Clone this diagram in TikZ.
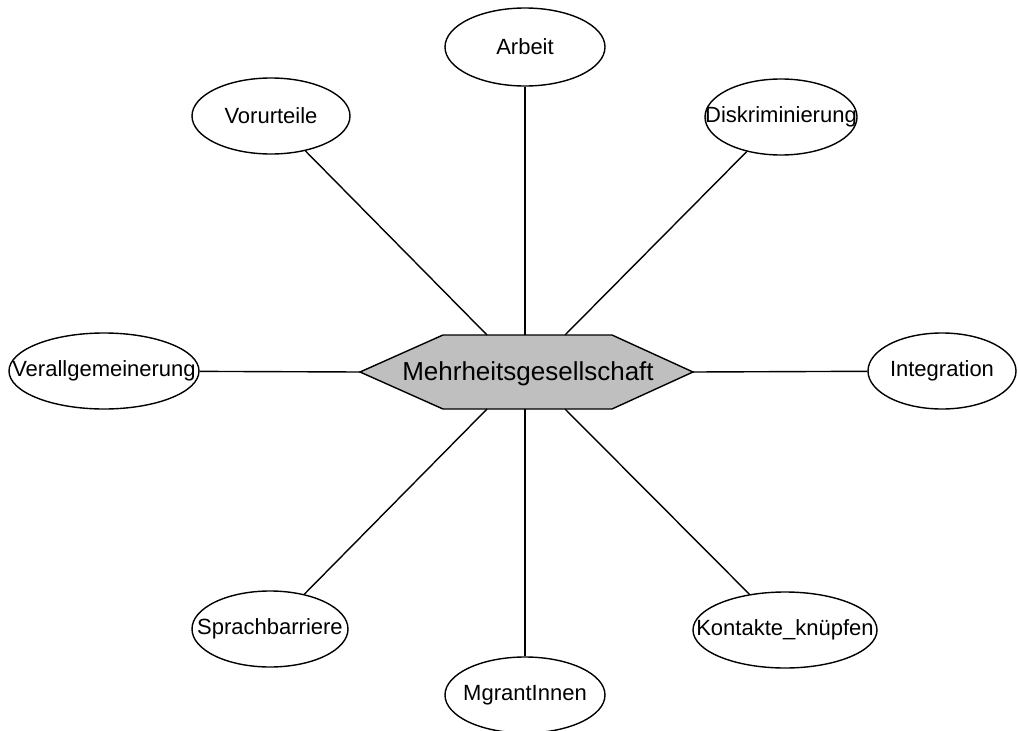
\documentclass[tikz,border=0pt]{standalone}
\usepackage{fontspec}
\setmainfont{Liberation Sans}
\usetikzlibrary{shapes.geometric}

\tikzset{
  topic/.style={draw=black, line width=1.4pt, fill=white, ellipse, inner sep=0pt},
  topictext/.style={font=\fontsize{22}{22}\selectfont, inner sep=0pt},
  link/.style={draw=black, line width=1.4pt},
  hub/.style={draw=black, line width=1.4pt, fill=black!25},
}

\begin{document}
\begin{tikzpicture}[x=1pt, y=-1pt]
  \useasboundingbox (0,0) rectangle (1018,731);

  % central hexagon
  \coordinate (h1) at (443,335);
  \coordinate (h2) at (612,335);
  \coordinate (h3) at (693,372);
  \coordinate (h4) at (612,409);
  \coordinate (h5) at (443,409);
  \coordinate (h6) at (360,372);
  \path[hub] (h1) -- (h2) -- (h3) -- (h4) -- (h5) -- (h6) -- cycle;
  \node[font=\fontsize{26}{26}\selectfont, inner sep=0pt] (center) at (528,374) {Mehrheitsgesellschaft};

  % attachment points on the hexagon
  \coordinate (tl) at (487,335);
  \coordinate (tm) at (525,335);
  \coordinate (tr) at (565,335);
  \coordinate (bl) at (487,409);
  \coordinate (bm) at (525,409);
  \coordinate (br) at (565,409);

  % surrounding topics: the ellipse is sized explicitly, the text sits on top
  \node[topic, minimum width=160pt, minimum height=78pt] (arbeit) at (525,47) {};
  \node[topictext] (arbeitT) at (arbeit.center) {Arbeit};
  \node[topic, minimum width=158pt, minimum height=76pt] (vorurteile) at (271,116) {};
  \node[topictext] (vorurteileT) at (vorurteile.center) {Vorurteile};
  \node[topic, minimum width=152pt, minimum height=76pt] (diskr) at (781,117) {};
  \node[topictext] (diskrT) at (diskr.center) {Diskriminierung};
  \node[topic, minimum width=190pt, minimum height=76pt] (verallg) at (104,371) {};
  \node[topictext] (verallgT) at (verallg.center) {Verallgemeinerung};
  \node[topic, minimum width=148pt, minimum height=76pt] (integ) at (942,371) {};
  \node[topictext] (integT) at (integ.center) {Integration};
  \node[topic, minimum width=156pt, minimum height=76pt] (sprach) at (270,629) {};
  \node[topictext] (sprachT) at (sprach.center) {Sprachbarriere};
  \node[topic, minimum width=160pt, minimum height=76pt] (migr) at (525,695) {};
  \node[topictext] (migrT) at (migr.center) {MgrantInnen};
  \node[topic, minimum width=184pt, minimum height=76pt] (kontakt) at (785,630) {};
  \node[topictext] (kontaktT) at (kontakt.center) {Kontakte\_knüpfen};

  % connectors
  \draw[link] (tm) -- (arbeit);
  \draw[link] (tl) -- (vorurteile);
  \draw[link] (tr) -- (diskr);
  \draw[link] (h6) -- (verallg);
  \draw[link] (h3) -- (integ);
  \draw[link] (bl) -- (sprach);
  \draw[link] (bm) -- (migr);
  \draw[link] (br) -- (kontakt);
\end{tikzpicture}
\end{document}
